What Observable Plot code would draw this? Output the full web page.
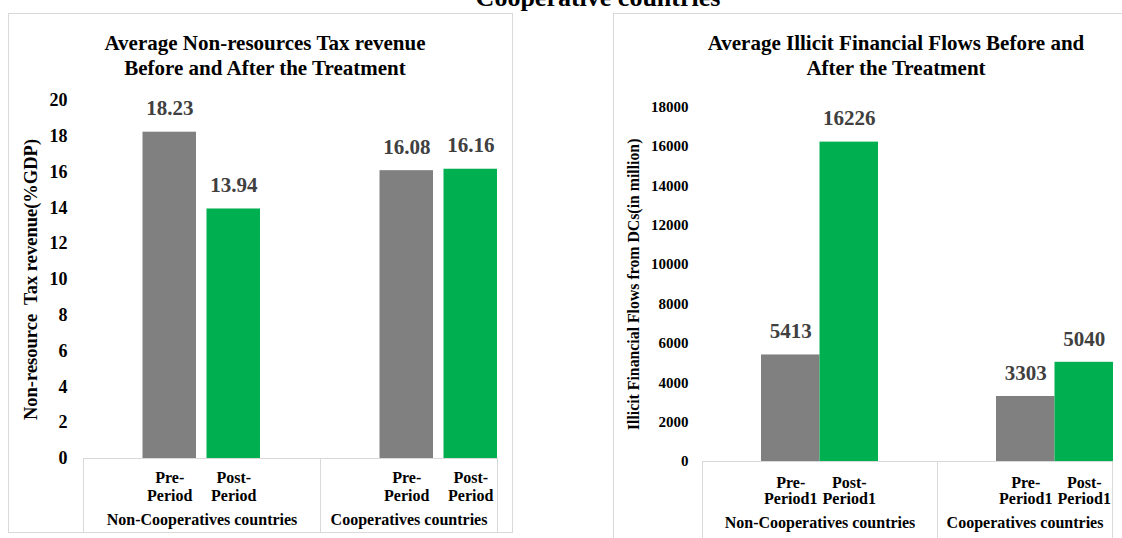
<!DOCTYPE html>
<html>
<head>
<meta charset="utf-8">
<script src="https://cdn.jsdelivr.net/npm/d3@7"></script>
<script src="https://cdn.jsdelivr.net/npm/@observablehq/plot@0.6"></script>
<style>
  body { margin: 0; background: #fff; }
  #page { position: relative; width: 1122px; height: 538px; overflow: hidden;
          font-family: "Liberation Serif", "Times New Roman", serif; font-weight: bold; color: #000; }
  .box { position: absolute; border: 1px solid #d9d9d9; box-sizing: border-box; }
  .vline { position: absolute; width: 0; border-left: 1px solid #d9d9d9; }
  .txt { position: absolute; text-align: center; white-space: nowrap; }
  .plotwrap { position: absolute; top: 0; }
</style>
</head>
<body>
<div id="page">
  <div class="txt" style="left:298px;width:600px;top:-14.8px;font-size:26px;line-height:26px;">Cooperative countries</div>

  <div class="box" style="left:8px;top:13px;width:505px;height:520px;"></div>
  <div class="box" style="left:613px;top:13px;width:700px;height:700px;"></div>

  <div class="txt" style="left:-35px;width:600px;top:31.4px;font-size:21px;line-height:25px;">Average Non-resources Tax revenue<br>Before and After the Treatment</div>
  <div class="txt" style="left:596px;width:600px;top:31.4px;font-size:21px;line-height:25px;">Average Illicit Financial Flows Before and<br>After the Treatment</div>

  <div class="vline" style="left:83px;top:458px;height:74px;"></div>
  <div class="vline" style="left:320px;top:458px;height:74px;"></div>
  <div class="vline" style="left:497px;top:458px;height:74px;"></div>

  <div class="vline" style="left:702px;top:461px;height:90px;"></div>
  <div class="vline" style="left:937px;top:461px;height:90px;"></div>
  <div class="vline" style="left:1112px;top:461px;height:90px;"></div>
</div>
<script>
// ---------- data ----------
const groups = ["Non-Cooperatives countries", "Cooperatives countries"];
const taxPeriods = ["Pre-\nPeriod", "Post-\nPeriod"];
const iffPeriods = ["Pre-\nPeriod1", "Post-\nPeriod1"];
const taxPre  = [18.23, 16.08];
const taxPost = [13.94, 16.16];
const iffPre  = [5413, 3303];
const iffPost = [16226, 5040];
const taxTicks = [0, 2, 4, 6, 8, 10, 12, 14, 16, 18, 20];
const iffTicks = [0, 2000, 4000, 6000, 8000, 10000, 12000, 14000, 16000, 18000];
const barColors = ["#808080", "#00b050"];
const taxTitle = "Non-resource  Tax revenue(%GDP)";
const iffTitle = "Illicit Financial Flows from DCs(in million)";

const FONT = '"Liberation Serif", "Times New Roman", serif';
const page = document.getElementById("page");

function groupPlot(cfg) {
  const rows = cfg.periods.map((p, i) => ({
    period: p, value: cfg.values[i], color: barColors[i]
  }));
  const marks = [];
  if (cfg.yAxis) {
    marks.push(Plot.axisY({
      ticks: cfg.yTicks, tickSize: 0, tickPadding: cfg.tickPadding,
      fontSize: cfg.tickFont, fontWeight: "bold", tickFormat: d => String(d), label: null
    }));
    marks.push(Plot.text([cfg.yTitle], {
      frameAnchor: "left", textAnchor: "middle", rotate: -90, dx: cfg.titleDx, text: d => d,
      fontSize: cfg.titleFont, fontWeight: "bold", fill: "#000"
    }));
  }
  marks.push(
    Plot.barY(rows, {x: "period", y: "value", fill: "color"}),
    Plot.ruleY([0], {stroke: "#d9d9d9", strokeWidth: 1}),
    Plot.text(rows, {
      x: "period", y: "value", text: d => cfg.fmt(d.value), dy: -23.5,
      fontSize: 21, fontWeight: "bold", fill: "#404040"
    }),
    Plot.text(rows, {
      x: "period", y: () => 0, text: "period", lineAnchor: "top", dy: cfg.catDy,
      lineHeight: cfg.catLH, fontSize: 16, fontWeight: "bold", fill: "#000"
    }),
    Plot.text([cfg.group], {
      frameAnchor: "bottom", dy: 66, text: d => d, fontSize: 16, fontWeight: "bold", fill: "#000"
    })
  );
  const svg = Plot.plot({
    width: cfg.width, height: 538,
    marginTop: cfg.top, marginBottom: 538 - cfg.bottom,
    marginLeft: cfg.marginLeft, marginRight: 0,
    style: {fontFamily: FONT, background: "transparent", color: "#000", overflow: "visible", maxWidth: "none"},
    x: {type: "band", domain: cfg.periods, range: [cfg.marginLeft + cfg.r0, cfg.marginLeft + cfg.r1],
        paddingInner: cfg.pi, paddingOuter: cfg.po, round: false, axis: null},
    y: {domain: cfg.yDomain, axis: null},
    marks
  });
  const wrap = document.createElement("div");
  wrap.className = "plotwrap";
  wrap.style.left = cfg.left + "px";
  wrap.appendChild(svg);
  page.appendChild(wrap);
}

// Left chart: non-resource tax revenue
const taxCommon = {
  periods: taxPeriods, yDomain: [0, 20], top: 100, bottom: 458,
  r0: 54.25, r1: 182.25, pi: 0.164, po: 0.082, catDy: 12.6, catLH: 1.08,
  fmt: d3.format(".2f"), yTicks: taxTicks, tickPadding: 16, tickFont: 18,
  yTitle: taxTitle, titleFont: 18.5, titleDx: -52.5
};
groupPlot({...taxCommon, left: 0, width: 320, marginLeft: 83, yAxis: true,
  values: [taxPre[0], taxPost[0]], group: groups[0]});
groupPlot({...taxCommon, left: 320, width: 177, marginLeft: 0, yAxis: false,
  values: [taxPre[1], taxPost[1]], group: groups[1]});

// Right chart: illicit financial flows
const iffCommon = {
  periods: iffPeriods, yDomain: [0, 18000], top: 106.7, bottom: 461,
  r0: 59, r1: 176, pi: 0, po: 0, catDy: 14.6, catLH: 1.02,
  fmt: d3.format("d"), yTicks: iffTicks, tickPadding: 14, tickFont: 15,
  yTitle: iffTitle, titleFont: 15.8, titleDx: -69
};
groupPlot({...iffCommon, left: 613, width: 324, marginLeft: 89, yAxis: true,
  values: [iffPre[0], iffPost[0]], group: groups[0]});
groupPlot({...iffCommon, left: 937, width: 175, marginLeft: 0, yAxis: false,
  values: [iffPre[1], iffPost[1]], group: groups[1]});
</script>
</body>
</html>
